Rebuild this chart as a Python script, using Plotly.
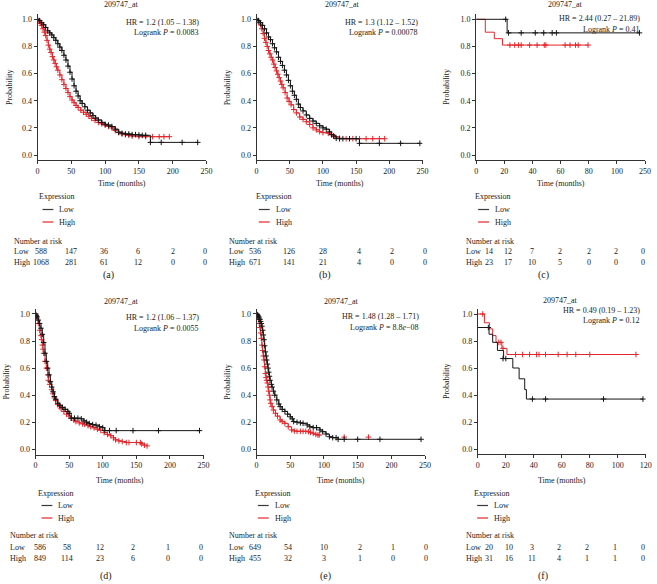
import plotly.graph_objects as go

W, H = 657, 584
FONT = "Liberation Serif"
LOW_C = "#161616"
HIGH_C = "#e3262b"
AX_C = "#333333"
TXT_C = "#222222"

# ------------------------------------------------------------------ data
probe = "209747_at"
group_names = ["Low", "High"]
legend_title = "Expression"
risk_title = "Number at risk"
x_title = "Time (months)"
y_title = "Probability"
panel_tags = ["(a)", "(b)", "(c)", "(d)", "(e)", "(f)"]

y_ticks = [0.0, 0.2, 0.4, 0.6, 0.8, 1.0]
x_ticks_250 = [0, 50, 100, 150, 200, 250]
x_ticks_120 = [0, 20, 40, 60, 80, 100, 120]
x_ticklabels_c = ["0", "20", "40", "60", "80", "100", "250"]
x_ticklabels_f = ["0", "20", "40", "60", "80", "100", "120"]

# (a)
a_low_t = [0, 3, 6, 9, 12, 15, 18, 21, 24, 27, 30, 33, 36, 39, 42, 45, 48, 51, 54, 57, 60, 63, 66, 70, 74, 78,
           82, 86, 90, 95, 100, 105, 110, 115, 120, 125, 130, 135, 140, 145, 150, 155, 160, 167, 183, 214, 237]
a_low_s = [1.0, 0.99, 0.975, 0.96, 0.94, 0.915, 0.9, 0.885, 0.865, 0.845, 0.82, 0.795, 0.77, 0.735, 0.70, 0.655,
           0.61, 0.56, 0.51, 0.47, 0.435, 0.40, 0.38, 0.355, 0.33, 0.31, 0.29, 0.272, 0.258, 0.24, 0.226, 0.22,
           0.21, 0.19, 0.168, 0.16, 0.155, 0.155, 0.15, 0.15, 0.148, 0.145, 0.145, 0.093, 0.093, 0.093, 0.093]
a_high_t = [0, 2, 4, 6, 8, 10, 12, 14, 16, 18, 20, 22, 24, 26, 28, 30, 33, 36, 39, 42, 45, 48, 51, 54, 57, 60,
            64, 68, 72, 76, 80, 85, 90, 95, 100, 105, 110, 115, 120, 125, 130, 135, 140, 150, 160, 170, 180, 187, 195]
a_high_s = [1.0, 0.985, 0.97, 0.955, 0.93, 0.905, 0.88, 0.845, 0.81, 0.78, 0.755, 0.725, 0.70, 0.675, 0.65, 0.625,
            0.59, 0.555, 0.52, 0.49, 0.46, 0.43, 0.405, 0.385, 0.365, 0.35, 0.33, 0.315, 0.30, 0.285, 0.27, 0.255,
            0.24, 0.23, 0.22, 0.21, 0.2, 0.18, 0.165, 0.155, 0.15, 0.145, 0.14, 0.135, 0.135, 0.135, 0.135, 0.135, 0.135]
a_hr = "HR = 1.2 (1.05 – 1.38)"
a_p = "0.0083"
a_risk_low = [588, 147, 36, 6, 2, 0]
a_risk_high = [1068, 281, 61, 12, 0, 0]

# (b)
b_low_t = [0, 3, 6, 9, 12, 15, 18, 21, 24, 27, 30, 33, 36, 39, 42, 45, 48, 51, 54, 57, 60, 63, 66, 70, 75, 80,
           85, 90, 95, 100, 105, 110, 113, 116, 120, 125, 130, 140, 150, 155, 185, 217, 246]
b_low_s = [1.0, 0.99, 0.975, 0.955, 0.93, 0.9, 0.87, 0.85, 0.82, 0.79, 0.76, 0.72, 0.69, 0.66, 0.625, 0.59, 0.55,
           0.51, 0.47, 0.44, 0.41, 0.375, 0.35, 0.325, 0.295, 0.27, 0.25, 0.233, 0.215, 0.2, 0.19, 0.17, 0.15,
           0.14, 0.123, 0.12, 0.12, 0.12, 0.12, 0.086, 0.086, 0.086, 0.086]
b_high_t = [0, 2, 4, 6, 8, 10, 12, 14, 16, 18, 20, 22, 24, 26, 28, 30, 32, 34, 36, 38, 40, 43, 46, 49, 52, 56,
            60, 65, 70, 75, 80, 85, 90, 95, 100, 108, 113, 118, 125, 135, 145, 155, 165, 175, 185, 193]
b_high_s = [1.0, 0.99, 0.975, 0.96, 0.93, 0.895, 0.86, 0.83, 0.80, 0.77, 0.745, 0.72, 0.70, 0.67, 0.645, 0.62,
            0.595, 0.57, 0.545, 0.52, 0.495, 0.46, 0.42, 0.395, 0.37, 0.335, 0.31, 0.28, 0.262, 0.245, 0.225,
            0.2, 0.185, 0.172, 0.165, 0.16, 0.15, 0.135, 0.123, 0.12, 0.12, 0.12, 0.12, 0.12, 0.12, 0.12]
b_hr = "HR = 1.3 (1.12 – 1.52)"
b_p = "0.00078"
b_risk_low = [536, 126, 28, 4, 2, 0]
b_risk_high = [671, 141, 21, 4, 0, 0]

# (c)
c_low_t = [0, 22, 116]
c_low_s = [1.0, 0.9, 0.9]
c_low_cens_t = [21, 23, 32, 42, 48, 54, 57, 116]
c_low_cens_s = [1.0, 0.9, 0.9, 0.9, 0.9, 0.9, 0.9, 0.9]
c_high_t = [0, 6.5, 12.9, 18.7, 79.5]
c_high_s = [1.0, 0.905, 0.857, 0.81, 0.81]
c_high_cens_t = [24, 27.4, 30, 32, 38, 43.3, 48.4, 49.5, 63.2, 66.7, 70.6, 72.5, 79.5]
c_high_cens_s = [0.81] * 13
c_hr = "HR = 2.44 (0.27 – 21.89)"
c_p = "0.41"
c_risk_low = [14, 12, 7, 2, 2, 2, 0]
c_risk_high = [23, 17, 10, 5, 0, 0, 0]

# (d)
d_low_t = [0, 1, 2, 4, 6, 8, 10, 12, 14, 16, 18, 20, 22, 24, 26, 28, 30, 33, 36, 40, 44, 48, 50, 53, 58, 63,
           68, 72, 76, 80, 85, 90, 95, 100, 103, 110, 120, 145, 183, 244]
d_low_s = [1.0, 0.99, 0.98, 0.955, 0.93, 0.895, 0.85, 0.79, 0.71, 0.65, 0.6, 0.55, 0.5, 0.46, 0.425, 0.39, 0.37,
           0.34, 0.325, 0.31, 0.295, 0.28, 0.266, 0.23, 0.23, 0.23, 0.225, 0.21, 0.2, 0.19, 0.183, 0.178, 0.167,
           0.16, 0.138, 0.138, 0.138, 0.138, 0.138, 0.138]
d_high_t = [0, 1, 2, 4, 6, 8, 9, 10, 11, 12, 14, 16, 18, 19, 21, 24, 26, 28, 30, 33, 36, 38, 42, 46, 50, 53,
            57, 60, 65, 70, 73, 78, 82, 87, 92, 97, 102, 107, 112, 116, 119, 124, 129, 135, 139, 150, 156, 158,
            162, 166]
d_high_s = [1.0, 0.985, 0.97, 0.93, 0.88, 0.84, 0.81, 0.77, 0.74, 0.71, 0.65, 0.60, 0.55, 0.51, 0.48, 0.44, 0.41,
            0.38, 0.36, 0.33, 0.315, 0.30, 0.28, 0.26, 0.245, 0.23, 0.215, 0.205, 0.195, 0.188, 0.185, 0.175,
            0.167, 0.158, 0.148, 0.14, 0.123, 0.11, 0.10, 0.085, 0.07, 0.062, 0.057, 0.05, 0.05, 0.05, 0.05,
            0.04, 0.03, 0.025]
d_hr = "HR = 1.2 (1.06 – 1.37)"
d_p = "0.0055"
d_risk_low = [586, 58, 12, 2, 1, 0]
d_risk_high = [849, 114, 23, 6, 0, 0]

# (e)
e_low_t = [0, 1, 2, 3, 4, 5, 6, 7, 8, 9, 10, 11, 12, 13, 14, 15, 16, 17, 18, 19, 20, 22, 23, 25, 27, 30, 33,
           35, 38, 42, 46, 50, 53, 55, 60, 65, 69, 75, 79, 84, 89, 94, 98, 103, 108, 113, 118, 121, 130, 150,
           183, 244]
e_low_s = [1.0, 0.995, 0.99, 0.98, 0.97, 0.96, 0.945, 0.93, 0.91, 0.88, 0.845, 0.81, 0.765, 0.72, 0.69, 0.66,
           0.63, 0.6, 0.57, 0.54, 0.51, 0.48, 0.46, 0.43, 0.4, 0.365, 0.335, 0.315, 0.295, 0.28, 0.26, 0.24,
           0.225, 0.205, 0.2, 0.195, 0.192, 0.18, 0.167, 0.16, 0.16, 0.143, 0.13, 0.113, 0.093, 0.086, 0.086,
           0.074, 0.074, 0.074, 0.074, 0.074]
e_high_t = [0, 1, 2, 3, 4, 5, 6, 7, 8, 9, 10, 11, 12, 13, 14, 15, 16, 17, 18, 19, 20, 21, 23, 25, 28, 31, 35,
            38, 42, 47, 52, 56, 60, 65, 69, 73, 77, 80, 84, 88, 91, 93]
e_high_s = [1.0, 0.99, 0.98, 0.96, 0.93, 0.9, 0.86, 0.82, 0.77, 0.73, 0.69, 0.66, 0.61, 0.56, 0.53, 0.51, 0.49,
            0.46, 0.43, 0.40, 0.365, 0.34, 0.315, 0.29, 0.266, 0.245, 0.217, 0.205, 0.192, 0.167, 0.143, 0.135,
            0.133, 0.133, 0.133, 0.133, 0.13, 0.125, 0.118, 0.11, 0.106, 0.106]
e_high_cens_t = [130, 166]
e_high_cens_s = [0.09, 0.09]
e_hr = "HR = 1.48 (1.28 – 1.71)"
e_p = "8.8<i>e</i>−08"
e_risk_low = [649, 54, 10, 2, 1, 0]
e_risk_high = [455, 32, 3, 1, 0, 0]

# (f)
f_low_t = [0, 8, 10.6, 14, 18.4, 25, 29.5, 33.5, 34.7, 118]
f_low_s = [0.9, 0.85, 0.79, 0.73, 0.67, 0.6, 0.52, 0.44, 0.37, 0.37]
f_low_cens_t = [7.5, 18, 20, 39, 48.4, 89.8, 118]
f_low_cens_s = [0.9, 0.67, 0.67, 0.37, 0.37, 0.37, 0.37]
f_high_t = [0, 4.7, 8.3, 10.6, 13, 17.2, 20.8, 113]
f_high_s = [1.0, 0.935, 0.89, 0.84, 0.79, 0.745, 0.70, 0.70]
f_high_cens_t = [3.5, 15, 16.5, 18, 27, 32, 37, 42, 43.7, 48.4, 57.4, 63.8, 70, 80, 113]
f_high_cens_s = [1.0, 0.79, 0.79, 0.745, 0.70, 0.70, 0.70, 0.70, 0.70, 0.70, 0.70, 0.70, 0.70, 0.70, 0.70]
f_hr = "HR = 0.49 (0.19 – 1.23)"
f_p = "0.12"
f_risk_low = [20, 10, 3, 2, 2, 1, 0]
f_risk_high = [31, 16, 11, 4, 1, 1, 0]

# ------------------------------------------------------------------ layout (pixel geometry)
panels = [
    dict(low=(a_low_t, a_low_s), high=(a_high_t, a_high_s), lowc=None, highc=None, hr=a_hr, p=a_p,
         risk=(a_risk_low, a_risk_high), xmax=250, xt=x_ticks_250, xtl=None,
         x0=36, x1=207, y1=19.3, y0=155, title=(121, 4), hr_r=201, hr_y=(23, 32.5), ylab_x=7,
         row=0, leg_x=41, tab_x=10, num_x=[39, 70, 103, 138, 173, 206], tag_x=108),
    dict(low=(b_low_t, b_low_s), high=(b_high_t, b_high_s), lowc=None, highc=None, hr=b_hr, p=b_p,
         risk=(b_risk_low, b_risk_high), xmax=250, xt=x_ticks_250, xtl=None,
         x0=257.7, x1=425.7, y1=19.3, y0=155, title=(345, 4), hr_r=423, hr_y=(23, 32.7), ylab_x=228,
         row=0, leg_x=260, tab_x=228, num_x=[256, 291, 325, 361, 395, 428], tag_x=327),
    dict(low=(c_low_t, c_low_s), high=(c_high_t, c_high_s), lowc=(c_low_cens_t, c_low_cens_s),
         highc=(c_high_cens_t, c_high_cens_s), hr=c_hr, p=c_p,
         risk=(c_risk_low, c_risk_high), xmax=120, xt=x_ticks_120, xtl=x_ticklabels_c,
         x0=480, x1=651, y1=19.3, y0=155, title=(570, 5), hr_r=648, hr_y=(18.5, 29.3), ylab_x=450,
         row=0, leg_x=482, tab_x=468, num_x=[493, 512, 537, 565, 594, 622, 649], tag_x=548),
    dict(low=(d_low_t, d_low_s), high=(d_high_t, d_high_s), lowc=None, highc=None, hr=d_hr, p=d_p,
         risk=(d_risk_low, d_risk_high), xmax=250, xt=x_ticks_250, xtl=None,
         x0=34, x1=204, y1=314, y0=449.3, title=(121, 301.5), hr_r=201.5, hr_y=(317.3, 328.3), ylab_x=5,
         row=1, leg_x=40, tab_x=6, num_x=[38, 66, 99, 133, 168, 201], tag_x=105),
    dict(low=(e_low_t, e_low_s), high=(e_high_t, e_high_s), lowc=None,
         highc=(e_high_cens_t, e_high_cens_s), hr=e_hr, p=e_p,
         risk=(e_risk_low, e_risk_high), xmax=250, xt=x_ticks_250, xtl=None,
         x0=257.7, x1=428.3, y1=314, y0=449.3, title=(344, 301), hr_r=424.3, hr_y=(316, 327.3), ylab_x=228,
         row=1, leg_x=259, tab_x=228, num_x=[256, 290, 326, 362, 396, 429], tag_x=327),
    dict(low=(f_low_t, f_low_s), high=(f_high_t, f_high_s), lowc=(f_low_cens_t, f_low_cens_s),
         highc=(f_high_cens_t, f_high_cens_s), hr=f_hr, p=f_p,
         risk=(f_risk_low, f_risk_high), xmax=120, xt=x_ticks_120, xtl=x_ticklabels_f,
         x0=481.7, x1=651.7, y1=314, y0=449, title=(565, 300), hr_r=648.3, hr_y=(310, 320.5), ylab_x=450,
         row=1, leg_x=481, tab_x=468, num_x=[493, 513, 537, 564, 592, 621, 649], tag_x=548),
]

# vertical positions (px) of the blocks under each row of plots
row_y = [
    dict(xlab=183, expr=197, low=209.5, high=222, nar=241, rlow=252, rhigh=262.5, tag=275),
    dict(xlab=480, expr=493, low=505.5, high=518, nar=535, rlow=547, rhigh=558, tag=576),
]


def fx(px):
    return px / W


def fy(py):
    return 1 - py / H


fig = go.Figure()
annotations = []
shapes = []
FS = 8
MS = 4


def txt(x, y, text, xanchor="center", size=FS, angle=0):
    annotations.append(dict(x=fx(x), y=fy(y), xref="paper", yref="paper", text=text, showarrow=False,
                            xanchor=xanchor, yanchor="middle", textangle=angle,
                            font=dict(family=FONT, size=size, color=TXT_C)))


for i, p in enumerate(panels, start=1):
    xa = "x" if i == 1 else f"x{i}"
    ya = "y" if i == 1 else f"y{i}"
    per = p["y0"] - p["y1"]
    top = p["y1"] - 0.04 * per
    bot = p["y0"] + 0.04 * per
    axis_common = dict(showline=True, linecolor=AX_C, linewidth=1, ticks="outside", ticklen=3,
                       tickwidth=1, tickcolor=AX_C, showgrid=False, zeroline=False,
                       tickfont=dict(family=FONT, size=FS, color=TXT_C))
    xkw = dict(domain=[fx(p["x0"]), fx(p["x1"])], range=[0, p["xmax"]], anchor=ya,
               tickvals=p["xt"], **axis_common)
    if p["xtl"] is not None:
        xkw["ticktext"] = p["xtl"]
    ykw = dict(domain=[fy(bot), fy(top)], range=[-0.04, 1.04], anchor=xa, tickvals=y_ticks,
               tickformat=".1f", **axis_common)
    fig.update_layout({("xaxis" if i == 1 else f"xaxis{i}"): xkw, ("yaxis" if i == 1 else f"yaxis{i}"): ykw})

    for (t, s), color, cens in [(p["high"], HIGH_C, p["highc"]), (p["low"], LOW_C, p["lowc"])]:
        if p["xmax"] == 120:
            fig.add_trace(go.Scatter(x=t, y=s, mode="lines", line=dict(shape="hv", width=1, color=color),
                                     xaxis=xa, yaxis=ya, showlegend=False, hoverinfo="skip"))
        else:
            fig.add_trace(go.Scatter(x=t, y=s, mode="lines+markers",
                                     line=dict(shape="hv", width=1, color=color),
                                     marker=dict(symbol="cross-thin", size=MS, line=dict(width=1, color=color)),
                                     xaxis=xa, yaxis=ya, showlegend=False, hoverinfo="skip"))
        if cens is not None:
            fig.add_trace(go.Scatter(x=cens[0], y=cens[1], mode="markers",
                                     marker=dict(symbol="cross-thin", size=MS, line=dict(width=1, color=color)),
                                     xaxis=xa, yaxis=ya, showlegend=False, hoverinfo="skip"))

    ry = row_y[p["row"]]
    cx = (p["x0"] + p["x1"]) / 2
    txt(p["title"][0], p["title"][1], probe)
    txt(p["hr_r"], p["hr_y"][0], p["hr"], xanchor="right")
    txt(p["hr_r"], p["hr_y"][1], "Logrank <i>P</i> = " + p["p"], xanchor="right")
    txt(p["ylab_x"], (top + bot) / 2, y_title, angle=-90)
    txt(cx, ry["xlab"], x_title)
    lx = p["leg_x"]
    txt(lx + 15, ry["expr"], legend_title)
    for gname, color, yy in [(group_names[0], "#3a3a3a", ry["low"]), (group_names[1], HIGH_C, ry["high"])]:
        shapes.append(dict(type="line", xref="paper", yref="paper", x0=fx(lx), x1=fx(lx + 11),
                           y0=fy(yy), y1=fy(yy), line=dict(color=color, width=1.2)))
        txt(lx + 15, yy, gname, xanchor="left")
    txt(p["tab_x"], ry["nar"], risk_title, xanchor="left")
    for gname, vals, yy in [(group_names[0], p["risk"][0], ry["rlow"]), (group_names[1], p["risk"][1], ry["rhigh"])]:
        txt(p["tab_x"], yy, gname, xanchor="left")
        for xv, v in zip(p["num_x"], vals):
            txt(xv, yy, str(v))
    txt(p["tag_x"], ry["tag"], panel_tags[i - 1], size=10)

fig.update_layout(width=W, height=H, margin=dict(l=0, r=0, t=0, b=0), paper_bgcolor="white",
                  plot_bgcolor="white", showlegend=False, annotations=annotations, shapes=shapes)
fig.write_html("out.html", config={"displayModeBar": False},
               post_script="document.body.style.margin='0px';document.body.style.overflow='hidden';")
